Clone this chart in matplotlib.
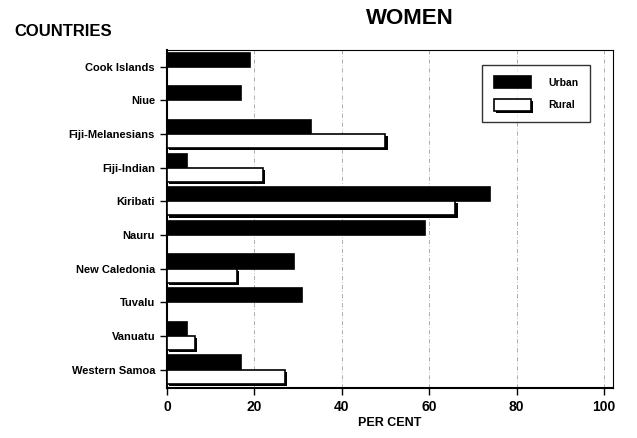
import numpy as np
import matplotlib.pyplot as plt
import matplotlib.patheffects as pe

plt.rcParams['font.family'] = ['Liberation Sans', 'DejaVu Sans']
plt.rcParams['font.weight'] = 'bold'

countries = ['Cook Islands', 'Niue', 'Fiji-Melanesians', 'Fiji-Indian', 'Kiribati',
             'Nauru', 'New Caledonia', 'Tuvalu', 'Vanuatu', 'Western Samoa']
urban = [19, 17, 33, 4.5, 74, 59, 29, 31, 4.5, 17]
rural = [np.nan, np.nan, 50, 22, 66, np.nan, 16, np.nan, 6.5, 27]
xticks = [0, 20, 40, 60, 80, 100]

fig = plt.figure(figsize=(6.37, 4.38), dpi=100)
ax = fig.add_axes([0.262, 0.114, 0.700, 0.772])

y = np.arange(len(countries))
h = 0.42
shadow = [pe.SimplePatchShadow(offset=(1.5, -1.5), shadow_rgbFace='black', alpha=1.0), pe.Normal()]

ax.barh(y - h / 2, urban, height=h, color='black', edgecolor='black', linewidth=1.2,
        label='Urban', zorder=3)
rb = ax.barh(y + h / 2, rural, height=h, color='white', edgecolor='black', linewidth=1.2,
             label='Rural', zorder=3)
for p in rb:
    p.set_path_effects(shadow)

ax.set_xlim(0, 102)
ax.set_ylim(len(countries) - 0.45, -0.5)
ax.set_yticks(y)
ax.set_yticklabels(countries, fontsize=8, fontweight='bold')
ax.set_xticks(xticks)
ax.set_xticklabels([str(t) for t in xticks], fontsize=10, fontweight='bold')
ax.tick_params(axis='y', length=5, width=1)
ax.tick_params(axis='x', length=5, width=1)
ax.xaxis.grid(True, color='black', linestyle=(0, (6, 3, 1, 3)), linewidth=0.5, alpha=0.45)
ax.set_axisbelow(True)

for s in ['left', 'bottom']:
    ax.spines[s].set_linewidth(1.5)
for s in ['top', 'right']:
    ax.spines[s].set_linewidth(0.8)

ax.set_xlabel('PER CENT', fontsize=9, fontweight='bold', labelpad=2)

leg = ax.legend(loc='upper right', bbox_to_anchor=(0.955, 0.965), fontsize=7.5, frameon=True,
                fancybox=False, edgecolor='black', borderpad=1.1, labelspacing=1.1,
                handlelength=3.6, handleheight=1.3, handletextpad=1.6, borderaxespad=0.3)
leg.get_frame().set_linewidth(1.0)

fig.text(0.022, 0.927, 'COUNTRIES', fontsize=12, fontweight='bold', ha='left', va='center')
fig.text(0.644, 0.957, 'WOMEN', fontsize=16, fontweight='bold', ha='center', va='center')

fig.savefig('out.png', dpi=100)
